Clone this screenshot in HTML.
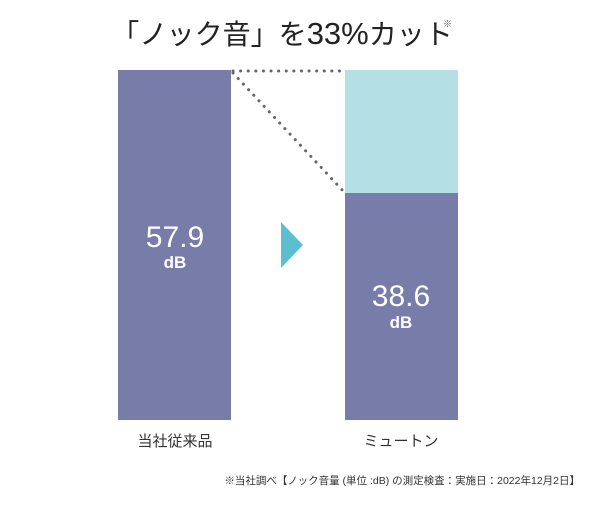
<!DOCTYPE html><html><head><meta charset="utf-8"><style>
body{margin:0;background:#fff;width:600px;height:505px;overflow:hidden;font-family:"Liberation Sans","Noto Sans CJK JP",sans-serif}
</style></head><body>
<svg width="600" height="505" xmlns="http://www.w3.org/2000/svg" font-family="Liberation Sans, Noto Sans CJK JP, sans-serif">
<text x="282" y="44" font-size="28" text-anchor="middle" fill="#222">「ノック音」を<tspan font-size="31">33%</tspan>カット</text>
<text x="443" y="27" font-size="9" fill="#555">※</text>
<rect x="118" y="70" width="113" height="350" fill="#787ca8"/>
<rect x="345" y="70" width="113" height="123" fill="#b3dfe5"/>
<rect x="345" y="193" width="113" height="227" fill="#787ca8"/>
<line x1="233" y1="71" x2="345" y2="71" stroke="#666" stroke-width="3" stroke-dasharray="0.1 7.5" stroke-linecap="round"/>
<line x1="233" y1="73" x2="345" y2="193" stroke="#666" stroke-width="3" stroke-dasharray="0.1 7.5" stroke-linecap="round"/>
<polygon points="281,222 303,245 281,268" fill="#5bbfd0"/>
<text x="175" y="247" font-size="30" fill="#fff" text-anchor="middle">57.9</text>
<text x="175" y="268" font-size="17" font-weight="bold" fill="#fff" text-anchor="middle">dB</text>
<text x="401" y="306" font-size="30" fill="#fff" text-anchor="middle">38.6</text>
<text x="401" y="328" font-size="17" font-weight="bold" fill="#fff" text-anchor="middle">dB</text>
<text x="175" y="446" font-size="15" fill="#333" text-anchor="middle">当社従来品</text>
<text x="401" y="446" font-size="15" fill="#333" text-anchor="middle">ミュートン</text>
<text x="580" y="484" font-size="10.5" fill="#333" text-anchor="end">※当社調べ【ノック音量 (単位 :dB) の測定検査：実施日：2022年12月2日】</text>
</svg>
</body></html>
